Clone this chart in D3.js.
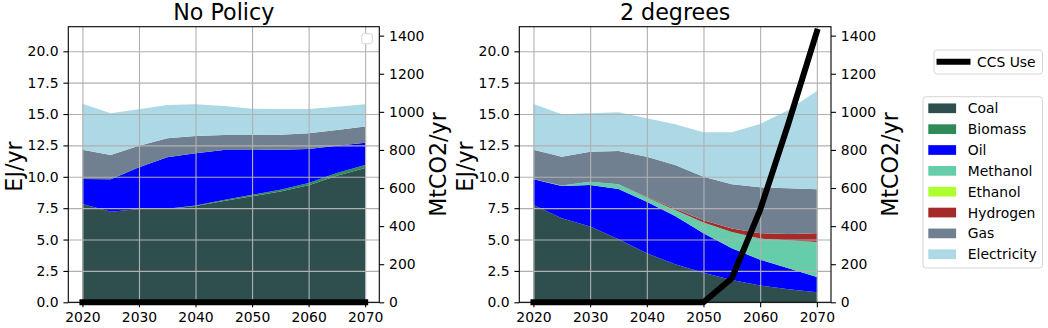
<!DOCTYPE html>
<html>
<head>
<meta charset="utf-8">
<script src="https://cdn.jsdelivr.net/npm/d3@7"></script>
<style>
  body { margin: 0; background: #fff; }
  svg { font-family: "DejaVu Sans", sans-serif; }
</style>
</head>
<body>
<svg id="chart" width="1048" height="328"></svg>
<script>
// data
const years = [2020, 2025, 2030, 2035, 2040, 2045, 2050, 2055, 2060, 2065, 2070];
const fuels = ['Coal', 'Biomass', 'Oil', 'Methanol', 'Ethanol', 'Hydrogen', 'Gas', 'Electricity'];
const fuelColors = ['#2f4f4f', '#2e8b57', '#0000ff', '#66cdaa', '#adff2f', '#a52a2a', '#708090', '#add8e6'];
const scenarios = ['No Policy', '2 degrees'];
const yTicks = [0, 2.5, 5, 7.5, 10, 12.5, 15, 17.5, 20];
const ccsTicks = [0, 200, 400, 600, 800, 1000, 1200, 1400];
const xTicks = [2020, 2030, 2040, 2050, 2060, 2070];

// No Policy (EJ/yr)
const npCoal = [7.83, 7.22, 7.44, 7.44, 7.68, 8.08, 8.45, 8.83, 9.33, 10.08, 10.7];
const npBiomass = [0, 0, 0, 0.01, 0.04, 0.08, 0.12, 0.14, 0.18, 0.22, 0.25];
const npOil = [2.0, 2.58, 3.32, 4.1, 4.15, 3.98, 3.57, 3.19, 2.71, 2.18, 1.77];
const npMethanol = [0, 0, 0, 0, 0, 0, 0, 0, 0, 0, 0];
const npEthanol = [0, 0, 0, 0, 0, 0, 0, 0, 0, 0, 0];
const npHydrogen = [0, 0, 0, 0, 0, 0, 0, 0, 0, 0, 0];
const npGas = [2.33, 1.94, 1.72, 1.52, 1.38, 1.19, 1.19, 1.2, 1.25, 1.25, 1.28];
const npElectricity = [3.67, 3.32, 2.9, 2.65, 2.53, 2.31, 2.1, 2.04, 1.93, 1.86, 1.78];
const npCCS = [0, 0, 0, 0, 0, 0, 0, 0, 0, 0, 0];

// 2 degrees (EJ/yr)
const tdCoal = [7.75, 6.69, 6.03, 5.02, 3.9, 3.03, 2.36, 1.78, 1.33, 1.04, 0.8];
const tdBiomass = [0, 0, 0, 0, 0, 0, 0, 0, 0, 0, 0];
const tdOil = [2.05, 2.58, 3.32, 4.01, 4.12, 3.85, 3.14, 2.52, 2.07, 1.67, 1.22];
const tdMethanol = [0, 0.04, 0.25, 0.37, 0.33, 0.47, 0.85, 1.3, 1.68, 2.24, 2.78];
const tdEthanol = [0, 0, 0, 0, 0, 0, 0, 0, 0, 0, 0];
const tdHydrogen = [0, 0, 0, 0, 0.05, 0.1, 0.18, 0.28, 0.42, 0.5, 0.7];
const tdGas = [2.36, 2.29, 2.4, 2.66, 3.2, 3.49, 3.48, 3.52, 3.66, 3.63, 3.5];
const tdElectricity = [3.64, 3.38, 3.06, 3.08, 3.06, 3.24, 3.54, 4.15, 5.05, 6.24, 7.84];
const tdCCS = [0, 0, 0, 0, 0, 0, 0, 126, 485, 940, 1420];

const npSeries = [npCoal, npBiomass, npOil, npMethanol, npEthanol, npHydrogen, npGas, npElectricity];
const tdSeries = [tdCoal, tdBiomass, tdOil, tdMethanol, tdEthanol, tdHydrogen, tdGas, tdElectricity];
const scenarioSeries = [npSeries, tdSeries];
const scenarioCCS = [npCCS, tdCCS];

const svg = d3.select('#chart');
const plotTop = 26.7, plotBottom = 302.3;
const panelLeft = [68.3, 519.3];
const panelRight = [379.3, 831];
const tickLen = 4.9, tickFont = 13.9, labelFont = 22.2;

const y = d3.scaleLinear().domain([0, 21.96]).range([plotBottom, plotTop]);
const yCCS = d3.scaleLinear().domain([0, 1447]).range([plotBottom, plotTop]);

const stack = d3.stack().keys(d3.range(fuels.length));

scenarios.forEach((name, p) => {
    const x = d3.scaleLinear().domain([2017.5, 2072.5]).range([panelLeft[p], panelRight[p]]);
    const g = svg.append('g');

    const rows = years.map((yr, i) => {
        const row = {year: yr};
        scenarioSeries[p].forEach((s, k) => { row[k] = s[i]; });
        return row;
    });
    const layers = stack(rows);
    const area = d3.area()
        .x(d => x(d.data.year))
        .y0(d => y(d[0]))
        .y1(d => y(d[1]));

    g.selectAll('path.layer')
        .data(layers)
        .join('path')
        .attr('class', 'layer')
        .attr('fill', d => fuelColors[d.key])
        .attr('d', area);

    // grid (drawn over the areas like matplotlib does)
    g.append('g')
        .attr('transform', `translate(0,${plotBottom})`)
        .call(d3.axisBottom(x).tickValues(xTicks).tickSize(-(plotBottom - plotTop)).tickFormat(''))
        .call(a => a.select('.domain').remove())
        .call(a => a.selectAll('line').attr('stroke', '#b0b0b0').attr('stroke-width', 1.1));
    g.append('g')
        .attr('transform', `translate(${panelLeft[p]},0)`)
        .call(d3.axisLeft(y).tickValues(yTicks).tickSize(-(panelRight[p] - panelLeft[p])).tickFormat(''))
        .call(a => a.select('.domain').remove())
        .call(a => a.selectAll('line').attr('stroke', '#b0b0b0').attr('stroke-width', 1.1));

    // axes
    const styleAxis = a => {
        a.select('.domain').remove();
        a.selectAll('line').attr('stroke', '#000').attr('stroke-width', 1.1);
        a.selectAll('text').attr('fill', '#000').attr('font-size', tickFont)
            .attr('font-family', '"DejaVu Sans", sans-serif');
    };
    g.append('g')
        .attr('transform', `translate(0,${plotBottom})`)
        .call(d3.axisBottom(x).tickValues(xTicks).tickSize(tickLen).tickPadding(4.9).tickFormat(d3.format('d')))
        .call(styleAxis);
    g.append('g')
        .attr('transform', `translate(${panelLeft[p]},0)`)
        .call(d3.axisLeft(y).tickValues(yTicks).tickSize(tickLen).tickPadding(4.9).tickFormat(d3.format('.1f')))
        .call(styleAxis);
    g.append('g')
        .attr('transform', `translate(${panelRight[p]},0)`)
        .call(d3.axisRight(yCCS).tickValues(ccsTicks).tickSize(tickLen).tickPadding(4.9).tickFormat(d3.format('d')))
        .call(styleAxis);

    g.append('rect')
        .attr('x', panelLeft[p]).attr('y', plotTop)
        .attr('width', panelRight[p] - panelLeft[p]).attr('height', plotBottom - plotTop)
        .attr('fill', 'none').attr('stroke', '#000').attr('stroke-width', 1.1);

    // CCS line on the twin axis
    const clipId = 'clip' + p;
    svg.append('clipPath').attr('id', clipId)
        .append('rect')
        .attr('x', panelLeft[p]).attr('y', plotTop)
        .attr('width', panelRight[p] - panelLeft[p]).attr('height', plotBottom - plotTop + 4);
    g.append('path')
        .datum(scenarioCCS[p])
        .attr('clip-path', `url(#${clipId})`)
        .attr('fill', 'none')
        .attr('stroke', '#000')
        .attr('stroke-width', 6)
        .attr('stroke-linecap', 'square')
        .attr('stroke-linejoin', 'round')
        .attr('d', d3.line().x((d, i) => x(years[i])).y(d => yCCS(d)));

    // titles and labels
    g.append('text')
        .attr('x', (panelLeft[p] + panelRight[p]) / 2).attr('y', 19.5)
        .attr('text-anchor', 'middle').attr('font-size', labelFont)
        .text(name);
    g.append('text')
        .attr('transform', `translate(${panelLeft[p] - 46},${(plotTop + plotBottom) / 2 + 2}) rotate(-90)`)
        .attr('text-anchor', 'middle').attr('font-size', labelFont)
        .text('EJ/yr');
    g.append('text')
        .attr('transform', `translate(${panelRight[p] + 67},${(plotTop + plotBottom) / 2}) rotate(-90)`)
        .attr('text-anchor', 'middle').attr('font-size', labelFont)
        .text('MtCO2/yr');
});

// empty legend left over in the first panel
svg.append('rect')
    .attr('x', 361.8).attr('y', 33.7).attr('width', 10.5).attr('height', 10)
    .attr('rx', 2).attr('fill', '#fff').attr('stroke', '#d6d6d6').attr('stroke-width', 1);

// CCS legend
const ccsLegend = svg.append('g');
ccsLegend.append('rect')
    .attr('x', 934).attr('y', 50).attr('width', 108.5).attr('height', 24)
    .attr('rx', 3).attr('fill', '#fff').attr('stroke', '#d6d6d6').attr('stroke-width', 1);
ccsLegend.append('line')
    .attr('x1', 939.5).attr('x2', 967.5).attr('y1', 61.7).attr('y2', 61.7)
    .attr('stroke', '#000').attr('stroke-width', 6).attr('stroke-linecap', 'square');
ccsLegend.append('text')
    .attr('x', 977).attr('y', 61.7).attr('dy', '0.36em')
    .attr('font-size', tickFont).text('CCS Use');

// fuel legend
const legend = svg.append('g');
legend.append('rect')
    .attr('x', 923).attr('y', 96.7).attr('width', 119.5).attr('height', 171.3)
    .attr('rx', 3).attr('fill', '#fff').attr('stroke', '#d6d6d6').attr('stroke-width', 1);
const item = legend.selectAll('g.item')
    .data(fuels)
    .join('g')
    .attr('class', 'item')
    .attr('transform', (d, i) => `translate(0,${108.3 + i * 20.85})`);
item.append('rect')
    .attr('x', 928.3).attr('y', -4.85).attr('width', 27.8).attr('height', 9.7)
    .attr('fill', (d, i) => fuelColors[i]);
item.append('text')
    .attr('x', 967.8).attr('dy', '0.36em')
    .attr('font-size', tickFont)
    .text(d => d);
</script>
</body>
</html>
